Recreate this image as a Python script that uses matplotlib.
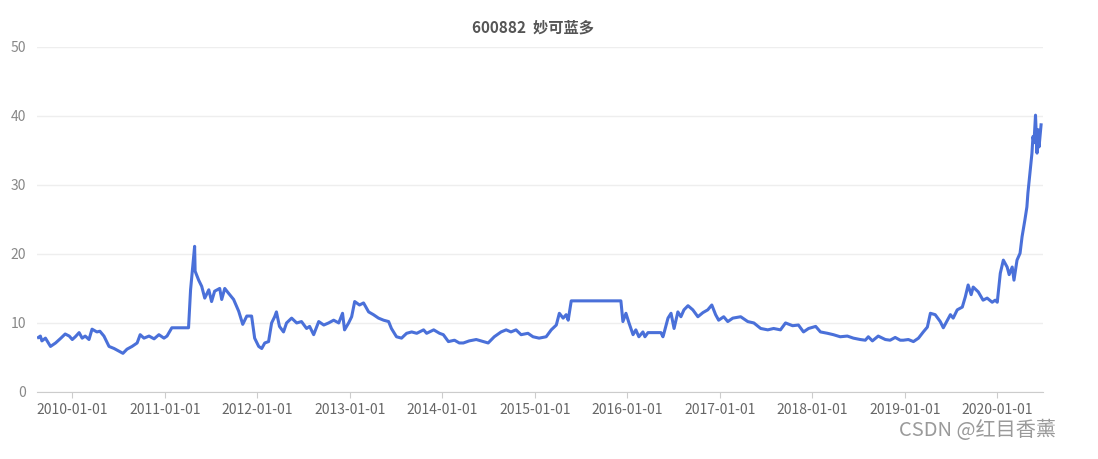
import matplotlib
matplotlib.use("Agg")
import matplotlib.pyplot as plt
import pandas as pd

plt.rcParams['font.family'] = ['Noto Sans CJK SC', 'DejaVu Sans']

# 收盘价
dates = [
    "2009-08-20", "2009-08-28", "2009-09-03", "2009-09-17", "2009-10-07", "2009-10-27",
    "2009-11-17", "2009-12-04", "2009-12-20", "2010-01-01", "2010-01-13", "2010-01-28",
    "2010-02-09", "2010-02-21", "2010-03-08", "2010-03-20", "2010-04-08", "2010-04-20",
    "2010-05-06", "2010-05-26", "2010-06-15", "2010-07-05", "2010-07-20", "2010-08-05",
    "2010-08-25", "2010-09-14", "2010-09-26", "2010-10-11", "2010-10-31", "2010-11-20",
    "2010-12-09", "2010-12-29", "2011-01-10", "2011-01-29", "2011-04-05", "2011-04-13",
    "2011-04-29", "2011-05-01", "2011-05-15", "2011-05-27", "2011-06-08", "2011-06-24",
    "2011-07-05", "2011-07-17", "2011-08-06", "2011-08-14", "2011-08-26", "2011-09-10",
    "2011-09-30", "2011-10-20", "2011-11-05", "2011-11-21", "2011-12-10", "2011-12-22",
    "2012-01-07", "2012-01-19", "2012-01-31", "2012-02-15", "2012-02-27", "2012-03-10",
    "2012-03-17", "2012-03-29", "2012-04-14", "2012-04-26", "2012-05-16", "2012-06-05",
    "2012-06-24", "2012-07-14", "2012-07-26", "2012-08-11", "2012-08-31", "2012-09-20",
    "2012-10-09", "2012-10-29", "2012-11-18", "2012-12-03", "2012-12-11", "2012-12-27",
    "2013-01-08", "2013-01-20", "2013-02-08", "2013-02-24", "2013-03-16", "2013-04-04",
    "2013-04-24", "2013-05-14", "2013-06-03", "2013-06-14", "2013-07-04", "2013-07-24",
    "2013-08-13", "2013-09-02", "2013-09-22", "2013-10-19", "2013-10-31", "2013-11-28",
    "2013-12-21", "2014-01-05", "2014-01-25", "2014-02-18", "2014-03-09", "2014-03-25",
    "2014-04-17", "2014-05-15", "2014-06-12", "2014-07-01", "2014-07-25", "2014-08-21",
    "2014-09-10", "2014-09-29", "2014-10-19", "2014-11-08", "2014-12-05", "2014-12-25",
    "2015-01-18", "2015-02-15", "2015-03-07", "2015-03-27", "2015-04-08", "2015-04-23",
    "2015-05-05", "2015-05-13", "2015-05-25", "2015-12-07", "2015-12-15", "2015-12-27",
    "2016-01-08", "2016-01-24", "2016-02-04", "2016-02-16", "2016-03-03", "2016-03-11",
    "2016-03-23", "2016-05-13", "2016-05-21", "2016-05-25", "2016-06-10", "2016-06-22",
    "2016-07-04", "2016-07-19", "2016-07-31", "2016-08-12", "2016-08-28", "2016-09-16",
    "2016-10-06", "2016-10-26", "2016-11-14", "2016-11-30", "2016-12-15", "2016-12-27",
    "2017-01-16", "2017-02-01", "2017-02-21", "2017-03-24", "2017-04-21", "2017-05-15",
    "2017-06-11", "2017-07-09", "2017-08-01", "2017-08-28", "2017-09-17", "2017-10-15",
    "2017-11-07", "2017-11-27", "2017-12-17", "2018-01-14", "2018-02-02", "2018-03-02",
    "2018-03-25", "2018-04-21", "2018-05-19", "2018-06-12", "2018-07-09", "2018-07-29",
    "2018-08-10", "2018-08-26", "2018-09-18", "2018-10-16", "2018-11-04", "2018-11-24",
    "2018-12-14", "2018-12-26", "2019-01-15", "2019-02-04", "2019-02-24", "2019-03-15",
    "2019-03-31", "2019-04-12", "2019-05-01", "2019-05-21", "2019-06-02", "2019-06-18",
    "2019-06-30", "2019-07-11", "2019-07-27", "2019-08-16", "2019-08-28", "2019-09-08",
    "2019-09-20", "2019-09-28", "2019-10-18", "2019-11-06", "2019-11-22", "2019-12-12",
    "2019-12-24", "2020-01-01", "2020-01-13", "2020-01-25", "2020-02-09", "2020-02-17",
    "2020-02-29", "2020-03-07", "2020-03-19", "2020-03-31", "2020-04-08", "2020-04-19",
    "2020-04-27", "2020-05-01", "2020-05-09", "2020-05-17", "2020-05-21", "2020-05-25",
    "2020-05-31", "2020-06-06", "2020-06-10", "2020-06-14", "2020-06-22",
]
close = [
    7.9, 8.1, 7.4, 7.8, 6.6, 7.1,
    7.8, 8.4, 8.1, 7.6, 8.0, 8.6,
    7.8, 8.1, 7.6, 9.1, 8.7, 8.8,
    8.1, 6.6, 6.3, 5.9, 5.6, 6.2,
    6.6, 7.1, 8.3, 7.8, 8.1, 7.7,
    8.3, 7.8, 8.1, 9.3, 9.3, 14.8,
    21.1, 17.5, 16.2, 15.3, 13.6, 14.8,
    13.1, 14.6, 15.0, 13.4, 15.0, 14.3,
    13.4, 11.7, 9.8, 11.0, 11.0, 7.8,
    6.6, 6.3, 7.1, 7.3, 10.0, 10.9,
    11.6, 9.5, 8.7, 10.0, 10.7, 10.0,
    10.2, 9.2, 9.5, 8.3, 10.2, 9.7,
    10.0, 10.4, 10.0, 11.4, 9.0, 10.0,
    10.9, 13.1, 12.6, 12.9, 11.6, 11.2,
    10.7, 10.4, 10.2, 9.2, 8.0, 7.8,
    8.5, 8.7, 8.5, 9.0, 8.5, 9.0,
    8.5, 8.3, 7.3, 7.5, 7.1, 7.1,
    7.4, 7.6, 7.3, 7.1, 8.0, 8.7,
    9.0, 8.7, 9.0, 8.3, 8.5, 8.0,
    7.8, 8.0, 9.0, 9.7, 11.4, 10.7,
    11.2, 10.4, 13.2, 13.2, 10.2, 11.4,
    10.0, 8.3, 9.0, 8.0, 8.7, 8.0,
    8.6, 8.6, 8.0, 8.5, 10.7, 11.4,
    9.2, 11.6, 10.9, 11.9, 12.5, 11.9,
    10.9, 11.5, 11.9, 12.6, 11.2, 10.4,
    10.9, 10.2, 10.7, 10.9, 10.2, 10.0,
    9.2, 9.0, 9.2, 9.0, 10.0, 9.6,
    9.7, 8.7, 9.2, 9.5, 8.7, 8.5,
    8.3, 8.0, 8.1, 7.8, 7.6, 7.5,
    8.0, 7.4, 8.1, 7.6, 7.5, 7.9,
    7.5, 7.5, 7.6, 7.3, 7.8, 8.7,
    9.4, 11.4, 11.2, 10.2, 9.3, 10.4,
    11.2, 10.7, 11.9, 12.3, 13.8, 15.5,
    14.1, 15.2, 14.5, 13.3, 13.6, 13.0,
    13.3, 13.0, 17.2, 19.1, 18.1, 17.0,
    18.1, 16.2, 19.1, 20.1, 22.5, 24.9,
    26.8, 28.8, 31.7, 34.6, 37.0, 36.1,
    40.1, 34.6, 38.0, 35.5, 38.7,
]
tick_labels = ["2010-01-01", "2011-01-01", "2012-01-01", "2013-01-01", "2014-01-01",
               "2015-01-01", "2016-01-01", "2017-01-01", "2018-01-01", "2019-01-01",
               "2020-01-01"]
title = "600882  妙可蓝多"

x = pd.to_datetime(dates)
ticks = pd.to_datetime(tick_labels)

fig = plt.figure(figsize=(10.98, 4.59), dpi=100)
ax = fig.add_axes([0.034, 0.146, 0.916, 0.752])

ax.plot(x, close, color="#4a70d9", linewidth=2.2)

ax.set_ylim(0, 50)
ax.set_yticks([0, 10, 20, 30, 40, 50])
ax.set_xlim(pd.Timestamp("2009-08-16"), pd.Timestamp("2020-06-30"))
ax.set_xticks(ticks)
ax.set_xticklabels(tick_labels)

ax.grid(axis="y", color="#eeeeee", linewidth=1)
ax.set_axisbelow(True)
for s in ["top", "right", "left"]:
    ax.spines[s].set_visible(False)
ax.spines["bottom"].set_color("#cccccc")
ax.tick_params(axis="y", length=0, pad=8, labelsize=10, labelcolor="#888888")
ax.tick_params(axis="x", length=4, color="#cccccc", pad=4, labelsize=10, labelcolor="#666666")

fig.text(0.485, 0.94, title, ha="center", va="center", fontsize=11,
         fontweight="bold", color="#555555")
fig.text(0.962, 0.062, "CSDN @红目香薰", ha="right", va="center", fontsize=14.5,
         color="#9a9a9a")

fig.savefig("out.png", dpi=100)
